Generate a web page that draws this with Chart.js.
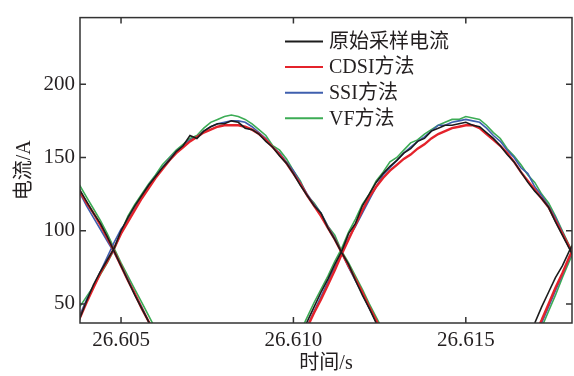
<!DOCTYPE html>
<html>
<head>
<meta charset="utf-8">
<script src="https://cdn.jsdelivr.net/npm/chart.js@4/dist/chart.umd.min.js"></script>
<style>
  body { margin: 0; background: #fff; }
  canvas { display: block; }
</style>
</head>
<body>
<canvas id="grafico" width="574" height="376"></canvas>
<script>
// eixos
const xTicks = [26.605, 26.610, 26.615];
const yTicks = [50, 100, 150, 200];
const nomes = ['原始采样电流', 'CDSI方法', 'SSI方法', 'VF方法'];

// tempos (s) de cada trecho
const tA = [26.6036, 26.6038, 26.6040, 26.6042, 26.6044, 26.6046, 26.6048, 26.6050, 26.6052, 26.6054, 26.6056, 26.6058, 26.6060, 26.6062];
const tB = [26.6036, 26.6038, 26.6040, 26.6042, 26.6044, 26.6046, 26.6048, 26.6050, 26.6052, 26.6054, 26.6056, 26.6058, 26.6060, 26.6062, 26.6064, 26.6066, 26.6068, 26.6070, 26.6072, 26.6074, 26.6076, 26.6078, 26.6080, 26.6082, 26.6084, 26.6086, 26.6088, 26.6090, 26.6092, 26.6094, 26.6096, 26.6098, 26.6100, 26.6102, 26.6104, 26.6106, 26.6108, 26.6110, 26.6112, 26.6114, 26.6116, 26.6118, 26.6120, 26.6122, 26.6124, 26.6126, 26.6128];
const tC = [26.6102, 26.6104, 26.6106, 26.6108, 26.6110, 26.6112, 26.6114, 26.6116, 26.6118, 26.6120, 26.6122, 26.6124, 26.6126, 26.6128, 26.6130, 26.6132, 26.6134, 26.6136, 26.6138, 26.6140, 26.6142, 26.6144, 26.6146, 26.6148, 26.6150, 26.6152, 26.6154, 26.6156, 26.6158, 26.6160, 26.6162, 26.6164, 26.6166, 26.6168, 26.6170, 26.6172, 26.6174, 26.6176, 26.6178, 26.6180, 26.6182];
const tD = [26.6170, 26.6172, 26.6174, 26.6176, 26.6178, 26.6180, 26.6182];

// corrente original (A)
const rawA = [135, 128, 120, 112, 105, 96, 86, 76, 66, 56, 47, 38, 29, 20];
const rawB = [31, 40, 52, 63, 72, 80, 88, 100, 109, 117, 124, 131, 137, 143, 148, 154, 158, 165, 163, 168, 171, 173, 173, 175, 174, 170, 169, 166, 161, 157, 151, 146, 139, 131, 124, 117, 112, 102, 94, 85, 77, 66, 56, 47, 37, 28, 20];
const rawC = [28, 38, 48, 58, 67, 77, 86, 98, 105, 117, 125, 133, 139, 144, 148, 153, 156, 161, 163, 168, 170, 172, 172, 173, 174, 172, 171, 167, 163, 158, 152, 147, 140, 133, 127, 122, 116, 106, 97, 88, 79];
const rawD = [37, 48, 58, 68, 76, 86, 95];

// CDSI
const cdsiA = [134, 127, 119, 112, 104, 95, 86, 76, 66, 57, 47, 38, 29, 20];
const cdsiB = [30, 40, 51, 61, 71, 79, 88, 98, 106, 114, 122, 129, 136, 142, 148, 153, 157, 161, 164, 167, 169, 171, 172, 172, 172, 171, 169, 166, 162, 157, 152, 146, 139, 132, 124, 117, 110, 102, 94, 85, 76, 67, 58, 48, 39, 30, 21];
const cdsiC = [25, 34, 44, 53, 63, 73, 84, 94, 104, 114, 123, 130, 136, 141, 145, 149, 152, 156, 159, 163, 166, 168, 170, 171, 172, 172, 170, 166, 162, 158, 153, 147, 140, 134, 128, 122, 116, 107, 98, 89, 80];
const cdsiD = [29, 39, 50, 61, 71, 82, 92];

// SSI
const ssiA = [133, 126, 117, 109, 101, 93, 85, 76, 67, 57, 48, 38, 29, 20];
const ssiB = [32, 42, 53, 62, 72, 82, 92, 101, 107, 115, 123, 131, 137, 143, 149, 154, 158, 162, 164, 168, 171, 173, 174, 175, 175, 174, 171, 167, 163, 157, 153, 147, 141, 133, 125, 118, 112, 103, 95, 85, 75, 66, 57, 47, 38, 29, 20];
const ssiC = [26, 35, 45, 55, 65, 75, 85, 95, 103, 112, 121, 130, 138, 143, 148, 153, 157, 161, 164, 168, 172, 172, 174, 175, 176, 175, 174, 170, 165, 161, 155, 150, 143, 139, 130, 124, 117, 109, 99, 89, 80];
const ssiD = [27, 37, 48, 59, 70, 81, 91];

// VF
const vfA = [137, 131, 123, 115, 107, 98, 88, 78, 69, 60, 51, 42, 33, 24];
const vfB = [38, 48, 55, 62, 70, 78, 87, 99, 110, 118, 125, 132, 138, 145, 150, 155, 159, 163, 165, 170, 174, 176, 178, 179, 178, 176, 173, 169, 165, 158, 155, 149, 141, 134, 124, 119, 112, 103, 97, 86, 78, 69, 60, 50, 41, 32, 23];
const vfC = [31, 41, 51, 60, 69, 79, 88, 99, 108, 118, 125, 134, 140, 147, 150, 155, 160, 162, 166, 169, 172, 174, 176, 176, 178, 177, 176, 172, 167, 163, 156, 151, 145, 138, 133, 125, 119, 110, 100, 90, 81];
const vfD = [24, 34, 45, 56, 68, 79, 89];

const tempos = [tA, tB, tC, tD];

// junta os trechos com uma quebra (null) entre eles
function juntar(trechos) {
    const pts = [];
    trechos.forEach((ys, i) => {
        const ts = tempos[i];
        ys.forEach((y, j) => pts.push({ x: ts[j], y: y }));
        pts.push({ x: ts[ts.length - 1], y: null });
    });
    return pts;
}

const fonte = "'Liberation Serif', 'Noto Sans CJK SC', serif";
const corTexto = '#231f20';

// moldura com marcas para dentro
const moldura = {
    id: 'moldura',
    afterDraw(chart) {
        const { ctx, chartArea: a, scales } = chart;
        ctx.save();
        ctx.strokeStyle = '#333';
        ctx.lineWidth = 1.5;
        ctx.strokeRect(a.left, a.top, a.right - a.left, a.bottom - a.top);
        ctx.beginPath();
        xTicks.forEach(v => {
            const px = scales.x.getPixelForValue(v);
            ctx.moveTo(px, a.bottom); ctx.lineTo(px, a.bottom - 6);
            ctx.moveTo(px, a.top); ctx.lineTo(px, a.top + 6);
        });
        yTicks.forEach(v => {
            const py = scales.y.getPixelForValue(v);
            ctx.moveTo(a.left, py); ctx.lineTo(a.left + 6, py);
            ctx.moveTo(a.right, py); ctx.lineTo(a.right - 6, py);
        });
        ctx.stroke();

        // legenda
        ctx.font = '20px ' + fonte;
        ctx.textBaseline = 'middle';
        ctx.fillStyle = corTexto;
        chart.data.datasets.forEach((ds, i) => {
            const yy = 41.5 + i * 25.6;
            ctx.strokeStyle = ds.borderColor;
            ctx.lineWidth = 2;
            ctx.beginPath();
            ctx.moveTo(285, yy); ctx.lineTo(323, yy);
            ctx.stroke();
            ctx.fillText(ds.label, 329, yy + 1);
        });
        ctx.restore();
    }
};

const ctx = document.getElementById('grafico');
new Chart(ctx, {
    type: 'line',
    data: {
        datasets: [
            { label: nomes[0], data: juntar([rawA, rawB, rawC, rawD]), borderColor: '#1c1c1c', borderWidth: 1.6 },
            { label: nomes[1], data: juntar([cdsiA, cdsiB, cdsiC, cdsiD]), borderColor: '#e4232b', borderWidth: 2.4 },
            { label: nomes[2], data: juntar([ssiA, ssiB, ssiC, ssiD]), borderColor: '#3f5fae', borderWidth: 1.6 },
            { label: nomes[3], data: juntar([vfA, vfB, vfC, vfD]), borderColor: '#3cac55', borderWidth: 1.6 }
        ]
    },
    options: {
        responsive: false,
        animation: false,
        spanGaps: false,
        elements: { point: { radius: 0 }, line: { tension: 0 } },
        layout: { padding: { top: 12, right: 2, left: 0, bottom: 0 } },
        plugins: {
            legend: { display: false },
            tooltip: { enabled: false }
        },
        scales: {
            x: {
                type: 'linear',
                min: 26.60381,
                max: 26.61808,
                grid: { display: false, drawTicks: false },
                border: { display: false },
                afterBuildTicks: s => { s.ticks = xTicks.map(v => ({ value: v })); },
                afterFit: s => { s.height = 53; },
                ticks: {
                    padding: 5,
                    maxRotation: 0,
                    autoSkip: false,
                    color: corTexto,
                    font: { family: fonte, size: 21 },
                    callback: v => v.toFixed(3)
                },
                title: {
                    display: true,
                    text: '时间/s',
                    color: corTexto,
                    padding: { top: 0, bottom: 0 },
                    font: { family: fonte, size: 20 }
                }
            },
            y: {
                min: 37,
                max: 245.5,
                grid: { display: false, drawTicks: false },
                border: { display: false },
                afterBuildTicks: s => { s.ticks = yTicks.map(v => ({ value: v })); },
                afterFit: s => { s.width = 80; },
                ticks: {
                    padding: 5,
                    color: corTexto,
                    font: { family: fonte, size: 21 }
                },
                title: {
                    display: true,
                    text: '电流/A',
                    color: corTexto,
                    padding: { top: 13, bottom: 0 },
                    font: { family: fonte, size: 20 }
                }
            }
        }
    },
    plugins: [moldura]
});
</script>
</body>
</html>
